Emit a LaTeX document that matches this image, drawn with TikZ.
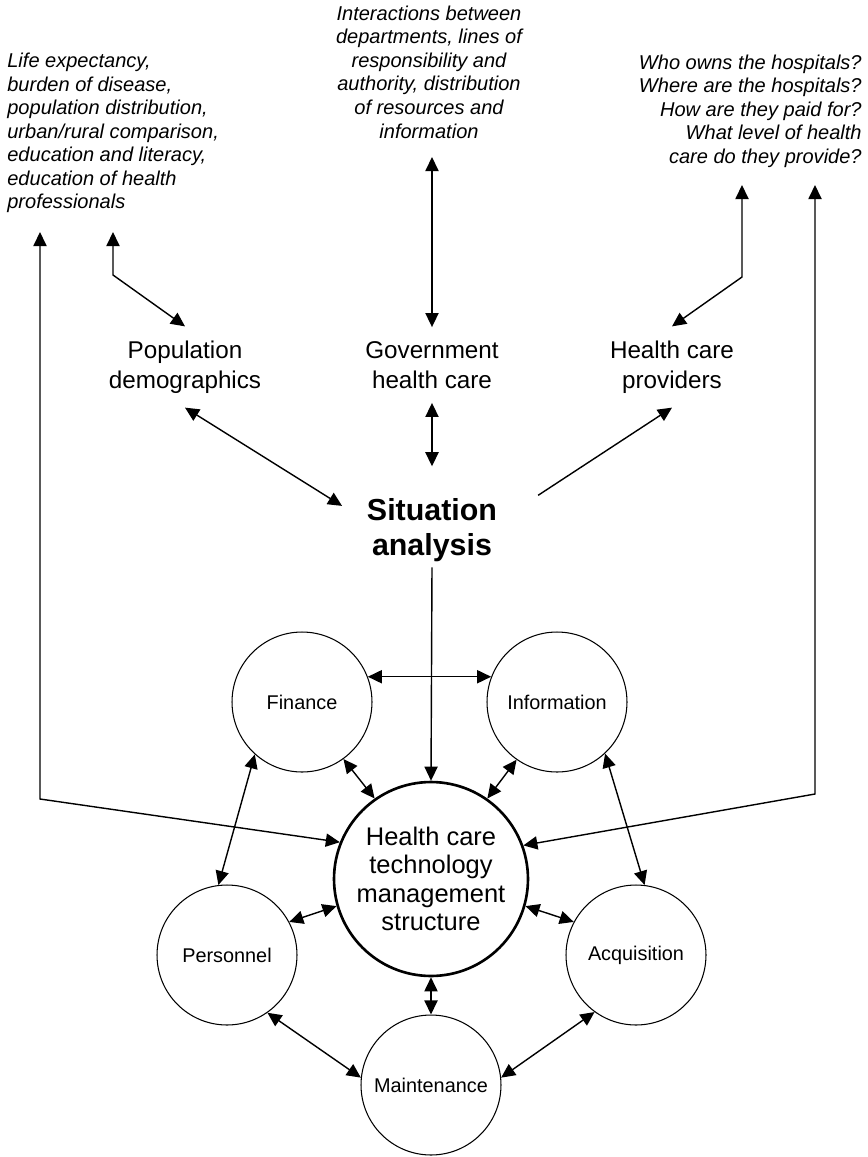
\documentclass[tikz,border=0pt]{standalone}
\usepackage{fontspec}
\setmainfont{Liberation Sans}
\usetikzlibrary{arrows.meta}

\begin{document}
\begin{tikzpicture}[x=0.02cm, y=-0.02cm,
  note/.style={font=\fontsize{11.4}{13.4}\selectfont\itshape, inner sep=0pt},
  topic/.style={font=\fontsize{13.8}{17}\selectfont, align=center, inner sep=8pt},
  area/.style={draw, circle, line width=0.6pt, minimum size=2.8cm, inner sep=0pt,
    font=\fontsize{11.3}{13}\selectfont},
  link/.style={line width=0.8pt, {Triangle[length=8pt,width=7.5pt]}-{Triangle[length=8pt,width=7.5pt]}},
  feed/.style={line width=0.8pt, -{Triangle[length=8pt,width=7.5pt]}}]
  \useasboundingbox (0,0) rectangle (868,1157);

  \node[note, anchor=west, align=left] (noteL) at (7,133)
    {Life expectancy,\\burden of disease,\\population distribution,\\urban/rural comparison,\\education and literacy,\\education of health\\professionals};
  \node[note, align=center] (noteM) at (429,72)
    {Interactions between\\departments, lines of\\responsibility and\\authority, distribution\\of resources and\\information};
  \node[note, anchor=east, align=right] (noteR) at (862,111)
    {Who owns the hospitals?\\Where are the hospitals?\\How are they paid for?\\What level of health\\care do they provide?};

  \node[topic] (pop) at (185,367) {Population\\demographics};
  \node[topic] (gov) at (432,365) {Government\\health care};
  \node[topic] (hcp) at (672,367) {Health care\\providers};
  \node[font=\fontsize{17.3}{20}\selectfont\bfseries, align=center, inner xsep=14pt, inner ysep=3pt]
    (sit) at (432,530) {Situation\\analysis};

  \node[draw, circle, line width=1.5pt, minimum size=3.88cm, inner sep=0pt, align=center,
    font=\fontsize{14.5}{16.1}\selectfont] (hctm) at (431,879)
    {Health care\\technology\\management\\structure};
  \node[area] (fin) at (302,702) {Finance};
  \node[area] (inf) at (557,702) {Information};
  \node[area] (per) at (227,955) {Personnel};
  \node[area] (acq) at (636,955) {Acquisition};
  \node[area] (mnt) at (431,1085) {Maintenance};

  \coordinate (upL) at (40,232);   \coordinate (kneeL) at (40,799);
  \coordinate (upP) at (113,232);  \coordinate (kneeP) at (113,275);
  \coordinate (upG) at (432,157);
  \coordinate (upH) at (742,185);  \coordinate (kneeH) at (742,277);
  \coordinate (upR) at (815,185);  \coordinate (kneeR) at (815,794);

  \draw[link] (upL) -- (kneeL) -- (hctm.158);
  \draw[link] (upP) -- (kneeP) -- (pop.north);
  \draw[link] (upG) -- (gov.north);
  \draw[link] (upH) -- (kneeH) -- (hcp.north);
  \draw[link] (upR) -- (kneeR) -- (hctm.20);

  \draw[link] (pop.south) -- (sit.165);
  \draw[link, shorten >=15pt] (gov.south) -- (sit.north);
  \draw[feed, shorten <=11pt] (sit.15) -- (hcp.south);
  \draw[feed] (sit.south) -- (hctm.north);

  \draw[link] (fin.21) -- (inf.159);
  \draw[link] (fin.-54) -- (hctm.125);
  \draw[link] (inf.235) -- (hctm.55);
  \draw[link] (per.28) -- (hctm.196);
  \draw[link] (acq.152) -- (hctm.-16);
  \draw[link] (hctm.south) -- (mnt.north);
  \draw[link] (fin.228) -- (per.97);
  \draw[link] (inf.313) -- (acq.83);
  \draw[link] (per.-55) -- (mnt.174);
  \draw[link] (acq.234) -- (mnt.6);
\end{tikzpicture}
\end{document}
